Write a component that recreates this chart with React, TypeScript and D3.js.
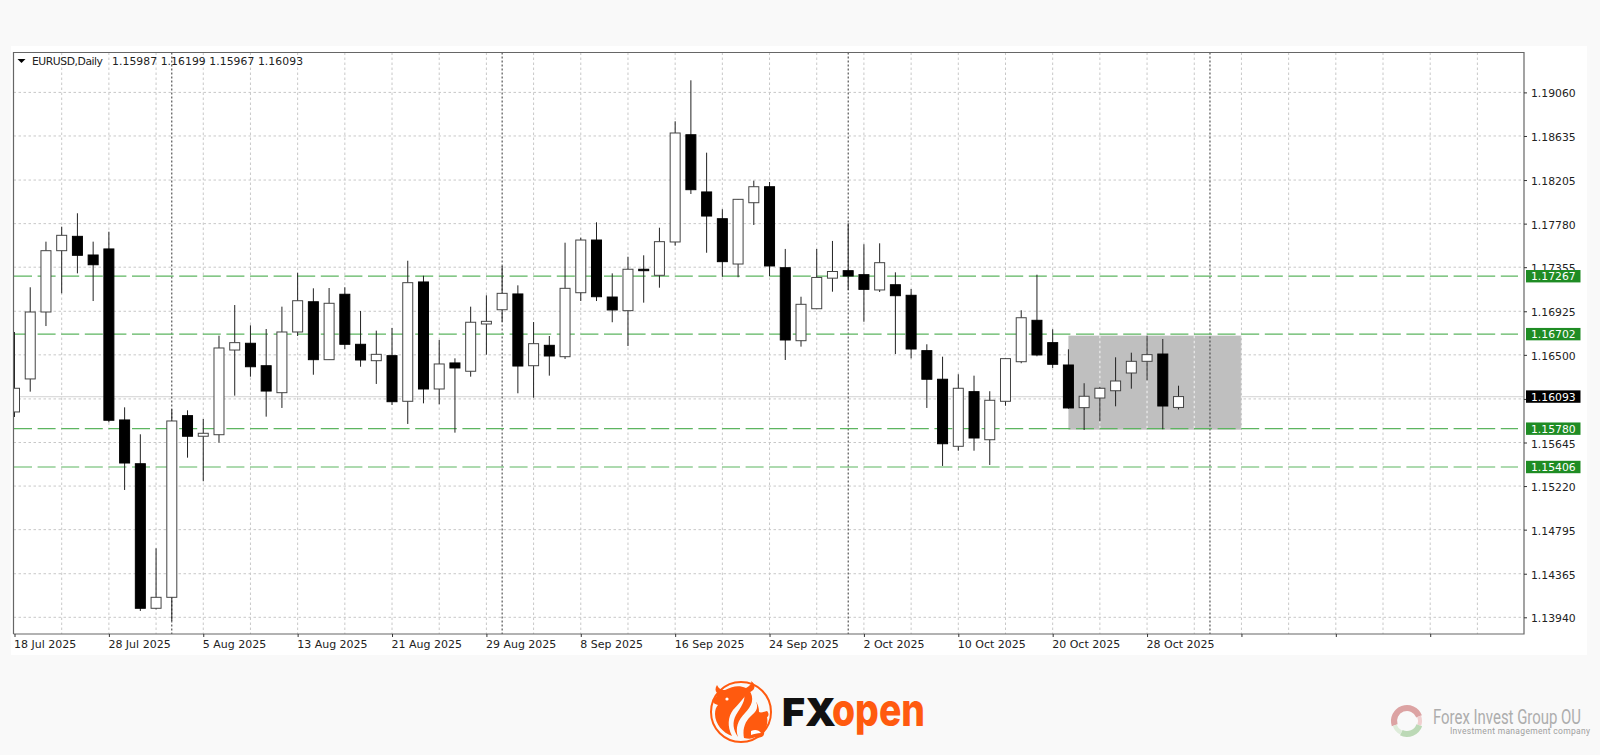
import React, { useEffect, useRef } from 'react';
import * as d3 from 'd3';

// daily candles, index 0 = 18 Jul 2025 (weekdays only)
const opens = [1.15943,1.16265,1.16918,1.17516,1.17656,1.17474,1.17533,1.15865,1.15438,1.14028,1.14135,1.15907,1.15706,1.15721,1.16547,1.16613,1.16394,1.16131,1.16723,1.17018,1.16453,1.17091,1.16603,1.16443,1.16492,1.16047,1.17211,1.16167,1.16421,1.1634,1.16801,1.1694,1.17094,1.16394,1.16593,1.16482,1.17106,1.1762,1.17064,1.16931,1.17335,1.17276,1.17601,1.18647,1.18089,1.17828,1.17386,1.17984,1.1814,1.1735,1.16638,1.1695,1.17248,1.17321,1.17282,1.17133,1.17184,1.17081,1.16541,1.16262,1.15608,1.16141,1.15672,1.16047,1.16433,1.16837,1.16619,1.16401,1.15985,1.16079,1.1615,1.16323,1.16437,1.16508,1.15987];
const highs = [1.16723,1.17159,1.17604,1.1775,1.17881,1.17604,1.17701,1.15988,1.15725,1.14613,1.15969,1.15959,1.15874,1.16687,1.16986,1.16788,1.16752,1.1697,1.17301,1.17149,1.17152,1.17159,1.16928,1.16736,1.16762,1.17418,1.17272,1.16645,1.16466,1.1697,1.17081,1.17367,1.17178,1.1682,1.16684,1.17594,1.17643,1.17793,1.17295,1.17457,1.17471,1.1774,1.18778,1.19178,1.18472,1.1792,1.1802,1.18199,1.18186,1.17533,1.17067,1.17533,1.17611,1.17783,1.17578,1.17588,1.17305,1.17142,1.16603,1.16482,1.1631,1.16297,1.16145,1.16469,1.16935,1.17282,1.16749,1.16554,1.16223,1.16189,1.16476,1.16521,1.16687,1.16655,1.16199];
const lows = [1.15894,1.16141,1.16781,1.171,1.17295,1.17025,1.15842,1.15182,1.14002,1.14018,1.13904,1.15497,1.15267,1.15643,1.16102,1.16287,1.15897,1.15982,1.16684,1.16306,1.1645,1.16557,1.16384,1.16216,1.16011,1.15826,1.16027,1.16018,1.15741,1.16287,1.16502,1.16823,1.16125,1.16082,1.16297,1.1646,1.17025,1.17025,1.16818,1.16586,1.17009,1.17155,1.17565,1.18069,1.17496,1.17262,1.17257,1.17767,1.17269,1.1645,1.1658,1.1695,1.17116,1.17133,1.16823,1.17113,1.16508,1.16466,1.15982,1.15416,1.15565,1.15565,1.15426,1.16004,1.16418,1.16486,1.16372,1.15975,1.15767,1.15852,1.15998,1.1617,1.16252,1.15774,1.15967];
const closes = [1.16174,1.16918,1.17516,1.17666,1.17471,1.17379,1.15862,1.15445,1.14028,1.14135,1.15855,1.15706,1.15735,1.16567,1.16619,1.16384,1.16147,1.16723,1.17028,1.16453,1.17003,1.16603,1.1645,1.16505,1.16043,1.17204,1.16167,1.16411,1.16372,1.16818,1.16827,1.171,1.16391,1.16609,1.16489,1.17149,1.1762,1.17067,1.16938,1.17335,1.17321,1.17604,1.18664,1.18111,1.17854,1.17409,1.18017,1.1814,1.17367,1.16645,1.16993,1.17255,1.17313,1.17269,1.17139,1.17399,1.17077,1.16557,1.16262,1.15633,1.16174,1.15689,1.16057,1.16463,1.16862,1.16499,1.16408,1.15982,1.16096,1.16174,1.16245,1.16437,1.16502,1.16001,1.16093];

const priceTicks = [1.1906,1.18635,1.18205,1.1778,1.17355,1.16925,1.165,1.1607,1.15645,1.1522,1.14795,1.14365,1.1394];
const hiddenTick = 1.1607; // covered by the last price tag
const dateLabels = ['18 Jul 2025','28 Jul 2025','5 Aug 2025','13 Aug 2025','21 Aug 2025','29 Aug 2025','8 Sep 2025','16 Sep 2025','24 Sep 2025','2 Oct 2025','10 Oct 2025','20 Oct 2025','28 Oct 2025'];
const levels = [1.17267, 1.16702, 1.1578, 1.15406];
const lastPrice = 1.16093;
const monthStarts = [10, 31, 53, 76]; // 1 Aug, 1 Sep, 1 Oct, 3 Nov
const boxRange = [67, 78];
const lastIndex = 96;

const left = 13.5;
const right = 1524;
const top = 52.5;
const bottom = 634;
const gridColor = '#c8c8c8';
const font = '"DejaVu Sans", sans-serif';
const orange = '#ff5a0f';

const App = () => {
  const ref = useRef<SVGSVGElement>(null);

  useEffect(() => {
    const svg = d3.select(ref.current);
    svg.selectAll('*').remove();

    const x = d3.scaleLinear().domain([0, lastIndex]).range([14.5, 14.5 + 15.73 * lastIndex]);
    const y = d3.scaleLinear().domain([1.1394, 1.1906]).range([617.3, 92.4]);

    svg.append('rect').attr('width', 1600).attr('height', 755).attr('fill', '#f9f9f9');
    svg.append('rect').attr('x', 11).attr('y', 46).attr('width', 1576).attr('height', 609).attr('fill', '#fff');

    svg.append('defs').append('clipPath').attr('id', 'plot')
      .append('rect').attr('x', left).attr('y', top).attr('width', right - left).attr('height', bottom - top);

    const plot = svg.append('g').attr('clip-path', 'url(#plot)');

    // grid
    const vTicks = d3.range(3, lastIndex, 3);
    plot.selectAll('.hgrid').data(priceTicks).enter().append('line')
      .attr('x1', left).attr('x2', right).attr('y1', d => y(d)).attr('y2', d => y(d))
      .attr('stroke', gridColor).attr('stroke-dasharray', '2.5 2.5');
    plot.selectAll('.vgrid').data(vTicks).enter().append('line')
      .attr('x1', d => x(d)).attr('x2', d => x(d)).attr('y1', top).attr('y2', bottom)
      .attr('stroke', gridColor).attr('stroke-dasharray', '2.5 2.5');

    // last price line
    plot.append('line').attr('x1', left).attr('x2', right)
      .attr('y1', y(lastPrice)).attr('y2', y(lastPrice))
      .attr('stroke', '#dcdcdc').attr('stroke-width', 1.2);

    // grey box
    plot.append('rect')
      .attr('x', x(boxRange[0])).attr('width', x(boxRange[1]) - x(boxRange[0]))
      .attr('y', y(levels[1]) + 1.5).attr('height', y(levels[2]) - y(levels[1]) - 0.5)
      .attr('fill', '#bfbfbf');
    plot.selectAll('.boxgrid').data(vTicks.filter(d => d > boxRange[0] && d <= boxRange[1])).enter().append('line')
      .attr('x1', d => x(d)).attr('x2', d => x(d))
      .attr('y1', y(levels[1]) + 1.5).attr('y2', y(levels[2]) + 1)
      .attr('stroke', '#ececec').attr('stroke-width', 1.2).attr('stroke-dasharray', '2.5 2.5');

    // month separators
    plot.selectAll('.sep').data(monthStarts).enter().append('line')
      .attr('x1', d => x(d)).attr('x2', d => x(d)).attr('y1', top).attr('y2', bottom)
      .attr('stroke', '#333').attr('stroke-dasharray', '2 2');

    // support / resistance levels
    plot.selectAll('.level').data(levels).enter().append('line')
      .attr('x1', 14).attr('x2', 1518).attr('y1', d => y(d)).attr('y2', d => y(d))
      .attr('stroke', '#5db560').attr('stroke-width', 1.2).attr('stroke-dasharray', '18 5.6');

    // candles
    const candles = plot.selectAll('.candle').data(d3.range(opens.length)).enter().append('g');
    candles.append('line')
      .attr('x1', i => x(i)).attr('x2', i => x(i))
      .attr('y1', i => y(highs[i])).attr('y2', i => y(lows[i]))
      .attr('stroke', '#222');
    candles.append('rect')
      .attr('x', i => x(i) - 5)
      .attr('width', 10)
      .attr('y', i => y(Math.max(opens[i], closes[i])))
      .attr('height', i => Math.max(1, Math.abs(y(opens[i]) - y(closes[i]))))
      .attr('fill', i => (closes[i] >= opens[i] ? '#fff' : '#000'))
      .attr('stroke', i => (closes[i] >= opens[i] ? '#444' : '#000'));

    // frame
    svg.append('path')
      .attr('d', `M${left},${bottom}V${top}H${right}V${bottom}H${left}`)
      .attr('fill', 'none').attr('stroke', '#666').attr('stroke-width', 1.2);

    // price axis
    const yAxis = svg.append('g').attr('transform', `translate(${right},0)`)
      .call(d3.axisRight(y).tickValues(priceTicks)
        .tickFormat(d => (d === hiddenTick ? '' : d3.format('.5f')(d))).tickSize(3).tickPadding(4));
    yAxis.select('.domain').remove();
    yAxis.selectAll('text').attr('font-family', font).attr('font-size', 10.8).attr('fill', '#222').attr('dy', '0.42em');
    yAxis.selectAll('line').attr('stroke', '#333');

    // date axis
    const xAxis = svg.append('g').attr('transform', `translate(0,${bottom})`)
      .call(d3.axisBottom(x).tickValues(d3.range(0, lastIndex, 6))
        .tickFormat((_, k) => dateLabels[k] ?? '').tickSize(3).tickPadding(3));
    xAxis.select('.domain').remove();
    xAxis.selectAll('text').attr('font-family', font).attr('font-size', 11).attr('fill', '#222')
      .attr('text-anchor', 'start').attr('dx', -1);
    xAxis.selectAll('line').attr('stroke', '#333');

    // level tags sit over the axis labels
    const tag = (price: number, fill: string) => {
      svg.append('rect').attr('x', 1526).attr('y', y(price) - 6.2).attr('width', 54.5).attr('height', 12.4).attr('fill', fill);
      svg.append('text').attr('x', 1531).attr('y', y(price) + 4)
        .attr('font-family', font).attr('font-size', 10.8).attr('fill', '#fff')
        .text(price.toFixed(5));
    };
    levels.forEach(p => tag(p, '#1f8c24'));
    tag(lastPrice, '#000');

    // header
    svg.append('path').attr('d', 'M17.5,59H25.5L21.5,63Z').attr('fill', '#000');
    svg.append('text').attr('x', 32).attr('y', 65).attr('font-family', font).attr('font-size', 10.8).attr('fill', '#222')
      .attr('textLength', 71).text('EURUSD,Daily');
    svg.append('text').attr('x', 112).attr('y', 65).attr('font-family', font).attr('font-size', 10.8).attr('fill', '#222')
      .attr('textLength', 191).text([opens, highs, lows, closes].map(s => s[s.length - 1].toFixed(5)).join(' '));

    // FXopen logo
    const logo = svg.append('g').attr('transform', 'translate(741,712)');
    logo.append('circle').attr('r', 30).attr('fill', 'none').attr('stroke', orange).attr('stroke-width', 2);
    logo.append('path').attr('fill', orange)
      .attr('d', 'M-24,-27 C-22,-23 -20,-22 -16,-22 C-8,-26 -2,-27 5,-24 C10,-27 11,-29 10,-31 C16,-27 14,-21 7,-19 C2,-14 -2,-8 -8,-2 C-13,5 -14,14 -9,24 C-18,21 -26,12 -26,2 C-26,-2 -25,-5 -23,-7 C-27,-8 -29,-10 -28,-13 C-25,-14 -24,-16 -24,-19 C-26,-21 -26,-24 -24,-27 Z');
    logo.append('path').attr('fill', orange)
      .attr('d', 'M8,-22 C14,-14 11,-6 4,1 C-3,8 -6,16 -3,25 C-8,18 -9,10 -5,3 C0,-5 5,-12 3,-18 Z');
    logo.append('path').attr('fill', orange)
      .attr('d', 'M14,-12 C18,-6 16,-1 11,3 C5,8 1,16 3,26 C8,27 11,27 14,25 C20,27 24,24 23,20 C26,15 27,10 26,5 C28,4 28,1 26,-1 C23,0 20,1 18,0 C18,-4 17,-8 14,-12 Z');
    logo.append('circle').attr('cx', -14).attr('cy', -13).attr('r', 1.6).attr('fill', '#fff');
    logo.append('path').attr('fill', '#fff').attr('d', 'M10,19 C14,17 18,18 20,21 C16,21 13,22 10,23 Z');

    svg.append('text').attr('x', 782).attr('y', 725.7)
      .attr('font-family', 'Inter, sans-serif').attr('font-weight', 900).attr('font-size', 38.5).attr('fill', '#111')
      .attr('textLength', 54).attr('lengthAdjust', 'spacingAndGlyphs').text('FX');
    svg.append('text').attr('x', 832).attr('y', 725.5)
      .attr('font-family', 'Inter, sans-serif').attr('font-weight', 800).attr('font-size', 45).attr('fill', orange)
      .attr('textLength', 93).attr('lengthAdjust', 'spacingAndGlyphs').text('open');

    // Forex Invest Group watermark
    const ring = d3.arc();
    const mark = svg.append('g').attr('transform', 'translate(1407,721)');
    mark.append('path').attr('fill', '#dca3a3')
      .attr('d', ring({ innerRadius: 10, outerRadius: 16, startAngle: -1.9, endAngle: 1.2 }));
    mark.append('path').attr('fill', '#f0cfcf')
      .attr('d', ring({ innerRadius: 11, outerRadius: 15, startAngle: 1.2, endAngle: 1.9 }));
    mark.append('path').attr('fill', '#bcd9b6')
      .attr('d', ring({ innerRadius: 10, outerRadius: 16, startAngle: 1.9, endAngle: 3.6 }));
    mark.append('path').attr('fill', '#deecda')
      .attr('d', ring({ innerRadius: 11, outerRadius: 15, startAngle: 3.6, endAngle: 4.38 }));

    svg.append('text').attr('x', 1433).attr('y', 724)
      .attr('font-family', 'Roboto, sans-serif').attr('font-size', 21).attr('fill', '#adadad')
      .attr('textLength', 148).attr('lengthAdjust', 'spacingAndGlyphs').text('Forex Invest Group OU');
    svg.append('text').attr('x', 1450).attr('y', 733.5)
      .attr('font-family', 'Roboto, sans-serif').attr('font-size', 8.5).attr('fill', '#a0a0a0')
      .attr('textLength', 140).text('Investment management company');
  }, []);

  return <svg ref={ref} width={1600} height={755} style={{ position: 'absolute', left: 0, top: 0, display: 'block' }} />;
};

export default App;
